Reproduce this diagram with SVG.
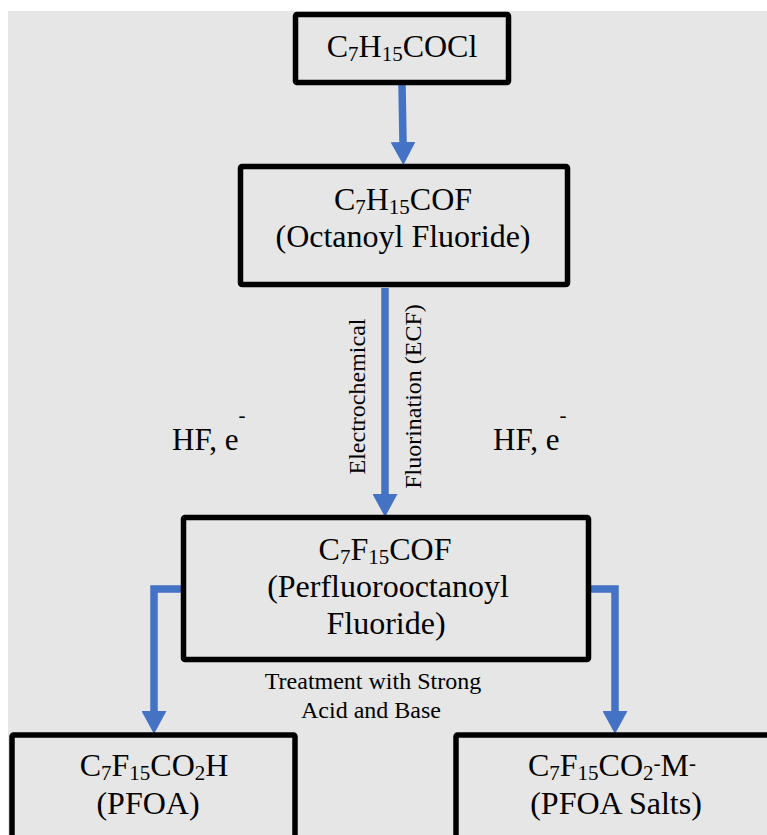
<svg xmlns="http://www.w3.org/2000/svg" width="767" height="835" viewBox="0 0 767 835">
<style>
.bg{fill:#ffffff}
.panel{fill:#e6e6e6}
.box{fill:#e6e6e6;stroke:#000;stroke-width:5.5;stroke-linejoin:round}
.t{font-family:"Liberation Serif","Times New Roman",serif;font-size:32px;fill:#000;text-anchor:middle}
.s{font-size:21px}
.lbl{font-family:"Liberation Serif","Times New Roman",serif;font-size:24px;fill:#000;text-anchor:middle}
.hf{font-family:"Liberation Serif","Times New Roman",serif;font-size:31px;fill:#000}
.con{fill:none;stroke:#4472c4;stroke-width:7.5;marker-end:url(#ah)}
</style>
<defs>
<marker id="ah" markerUnits="userSpaceOnUse" markerWidth="23" markerHeight="25" viewBox="0 0 22 24" refX="0" refY="12" orient="auto">
<path d="M0,0 L22,12 L0,24 z" fill="#4472c4"/>
</marker>
</defs>
<rect class="bg" x="0" y="0" width="767" height="835"/>
<rect class="panel" x="8" y="11" width="759" height="824"/>

<g id="connectors">
<path class="con" d="M402,84 L403,142"/>
<path class="con" d="M385,288 L385,494"/>
<path class="con" d="M181,589 L154,589 L154,711"/>
<path class="con" d="M591,589 L615,589 L615,711"/>
</g>

<g id="n1">
<rect class="box" x="295.5" y="14.5" width="213" height="68" rx="1.5"/>
<text class="t" x="402" y="57">C<tspan class="s" dy="4">7</tspan><tspan dy="-4">H</tspan><tspan class="s" dy="4">15</tspan><tspan dy="-4">COCl</tspan></text>
</g>

<g id="n2">
<rect class="box" x="240.5" y="166.5" width="327" height="118" rx="1.5"/>
<text class="t" x="403" y="210">C<tspan class="s" dy="4">7</tspan><tspan dy="-4">H</tspan><tspan class="s" dy="4">15</tspan><tspan dy="-4">COF</tspan></text>
<text class="t" x="403" y="247">(Octanoyl Fluoride)</text>
</g>

<g id="ecf-labels">
<text class="lbl" transform="translate(365,396.5) rotate(-90)">Electrochemical</text>
<text class="lbl" transform="translate(421,396.5) rotate(-90)">Fluorination (ECF)</text>
<text class="hf" x="172" y="450">HF, e<tspan class="s" dy="-28">-</tspan></text>
<text class="hf" x="493" y="450">HF, e<tspan class="s" dy="-28">-</tspan></text>
</g>

<g id="n3">
<rect class="box" x="183.5" y="517.5" width="405" height="142" rx="1.5"/>
<text class="t" x="385" y="560">C<tspan class="s" dy="4">7</tspan><tspan dy="-4">F</tspan><tspan class="s" dy="4">15</tspan><tspan dy="-4">COF</tspan></text>
<text class="t" x="388" y="597">(Perfluorooctanoyl</text>
<text class="t" x="386" y="634">Fluoride)</text>
</g>

<g id="treatment-label">
<text class="lbl" x="373" y="689">Treatment with Strong</text>
<text class="lbl" x="371" y="718">Acid and Base</text>
</g>

<g id="n4">
<rect class="box" x="12" y="735" width="283" height="130" rx="1.5"/>
<text class="t" x="154" y="776">C<tspan class="s" dy="4">7</tspan><tspan dy="-4">F</tspan><tspan class="s" dy="4">15</tspan><tspan dy="-4">CO</tspan><tspan class="s" dy="4">2</tspan><tspan dy="-4">H</tspan></text>
<text class="t" x="148" y="814">(PFOA)</text>
</g>

<g id="n5">
<rect class="box" x="456" y="735" width="330" height="130" rx="1.5"/>
<text class="t" x="612" y="776">C<tspan class="s" dy="4">7</tspan><tspan dy="-4">F</tspan><tspan class="s" dy="4">15</tspan><tspan dy="-4">CO</tspan><tspan class="s" dy="4">2</tspan><tspan class="s" dy="-10">-</tspan><tspan dy="6">M</tspan><tspan class="s" dy="-6">-</tspan></text>
<text class="t" x="616" y="814">(PFOA Salts)</text>
</g>
</svg>
